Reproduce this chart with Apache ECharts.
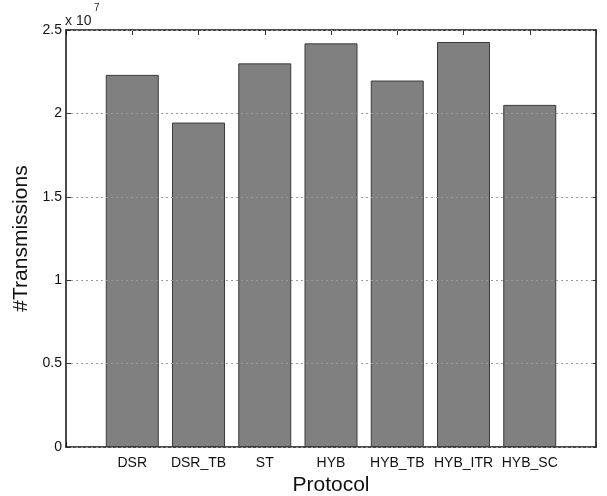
<!DOCTYPE html>
<html>
<head>
<meta charset="utf-8">
<script src="https://cdn.jsdelivr.net/npm/echarts@6/dist/echarts.min.js"></script>
<style>html,body{margin:0;padding:0;background:#fff}#c{width:607px;height:496px}</style>
</head>
<body>
<div id="c"></div>
<script>
var categories = ['DSR', 'DSR_TB', 'ST', 'HYB', 'HYB_TB', 'HYB_ITR', 'HYB_SC'];
var transmissions = [2.231e7, 1.945e7, 2.300e7, 2.420e7, 2.197e7, 2.428e7, 2.051e7];
var yTicks = [0, 0.5e7, 1e7, 1.5e7, 2e7, 2.5e7];

var FONT = 'Liberation Sans, Arial, sans-serif';
var chart = echarts.init(document.getElementById('c'), null, {renderer: 'canvas'});
var barData = categories.map(function (c, i) { return [i + 1, transmissions[i]]; });

function yFmt(v) {
  var s = +(v / 1e7).toFixed(2);
  return String(s);
}

chart.setOption({
  animation: false,
  backgroundColor: '#fff',
  graphic: [
    {type: 'text', left: 65, top: 14, style: {text: 'x 10', fontFamily: FONT, fontSize: 14, fill: '#222'}},
    {type: 'text', left: 94, top: 3, style: {text: '7', fontFamily: FONT, fontSize: 10, fill: '#222'}}
  ],
  grid: {left: 66, right: 11, top: 30, bottom: 49, containLabel: false, outerBoundsMode: 'none'},
  xAxis: [{
    type: 'value', min: 0, max: 8, interval: 1, position: 'bottom',
    axisLine: {show: true, onZero: false, lineStyle: {color: '#111', width: 1.5}},
    axisTick: {show: true, inside: true, length: 5, lineStyle: {color: '#333'}},
    splitLine: {show: false},
    axisLabel: {
      color: '#111', fontFamily: FONT, fontSize: 14, margin: 9,
      formatter: function (v) { return categories[v - 1] || ''; }
    },
    name: 'Protocol', nameLocation: 'middle', nameGap: 25,
    nameTextStyle: {color: '#111', fontFamily: FONT, fontSize: 21}
  }, {
    type: 'value', min: 0, max: 8, interval: 1, position: 'top',
    axisLine: {show: true, onZero: false, lineStyle: {color: '#111', width: 1.5}},
    axisTick: {show: true, inside: true, length: 5, lineStyle: {color: '#333'}},
    splitLine: {show: false},
    axisLabel: {show: false}
  }],
  yAxis: [{
    type: 'value', min: 0, max: 2.5e7, interval: 0.5e7, position: 'left', z: 10,
    axisLine: {show: true, onZero: false, lineStyle: {color: '#111', width: 1.5}},
    axisTick: {show: true, inside: true, length: 5, lineStyle: {color: '#333'}},
    splitLine: {show: true, lineStyle: {color: '#999', type: [2, 3], width: 1}},
    axisLabel: {color: '#111', fontFamily: FONT, fontSize: 14, margin: 4, formatter: yFmt},
    name: '#Transmissions', nameLocation: 'middle', nameGap: 30, nameRotate: 90,
    nameTextStyle: {color: '#111', fontFamily: FONT, fontSize: 21}
  }, {
    type: 'value', min: 0, max: 2.5e7, interval: 0.5e7, position: 'right',
    axisLine: {show: true, onZero: false, lineStyle: {color: '#111', width: 1.5}},
    axisTick: {show: true, inside: true, length: 5, lineStyle: {color: '#333'}},
    splitLine: {show: false},
    axisLabel: {show: false}
  }],
  series: [{
    type: 'bar',
    xAxisIndex: 0, yAxisIndex: 0,
    data: barData,
    barWidth: 53,
    itemStyle: {color: '#808080', borderColor: '#3a3a3a', borderWidth: 1}
  }]
});
</script>
</body>
</html>
